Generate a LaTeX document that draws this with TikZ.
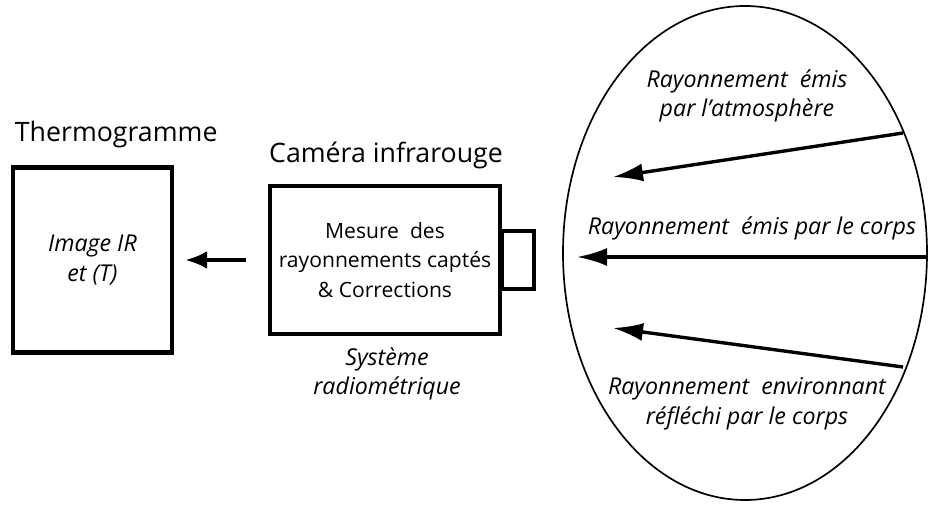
\documentclass[tikz,border=0pt]{standalone}
\usepackage{fontspec}
\setmainfont{Open Sans}
\usetikzlibrary{arrows.meta,shapes.geometric}

\begin{document}
\begin{tikzpicture}
	\tikzset{box/.style={draw, line width=3.2pt, align=center, font=\fontsize{15}{21}\selectfont},
		title/.style={font=\fontsize{19}{22}\selectfont},
		note/.style={align=center, font=\fontsize{16.5}{21}\selectfont\itshape},
		ray/.style={line width=2.4pt, -{Latex[length=0.75cm, width=0.45cm]}}}
	\useasboundingbox (0,0) rectangle (23.2,12.7);
	% thermogramme
	\node[box, minimum width=3.975cm, minimum height=4.625cm, font=\fontsize{16.5}{21}\selectfont\itshape] (thermo) at (2.31,6.2) {Image IR\\et (T)};
	\node[title, anchor=west] (thermolbl) at (0.25,9.33) {Thermogramme};
	% camera
	\node[box, minimum width=5.75cm, minimum height=3.7cm] (cam) at (9.625,6.2) {Mesure\ \ des\\rayonnements captés\\\& Corrections};
	\node[draw, line width=2.6pt, minimum width=0.8cm, minimum height=1.45cm, anchor=west, inner sep=0pt] (lens) at ([xshift=-1.5pt]cam.east) {};
	\node[title] (camlbl) at (9.65,8.825) {Caméra infrarouge};
	\node[note] (sys) at (9.675,3.35) {Système\\radiométrique};
	\draw[line width=2.8pt, -{Latex[length=0.55cm, width=0.45cm]}, shorten <=0.55cm, shorten >=0.275cm] (cam.west) -- (thermo.east);
	% corps
	\node[draw, ellipse, line width=1.2pt, minimum width=9.1cm, minimum height=12.35cm, inner sep=0pt] (corps) at (18.625,6.375) {};
	\node[note] (atm) at (18.675,10.3) {Rayonnement\ \ émis\\par l'atmosphère};
	\node[note] (emis) at (18.8,7.0) {Rayonnement\ \ émis par le corps};
	\node[note] (refl) at (18.675,2.6) {Rayonnement\ \ environnant\\réfléchi par le corps};
	\coordinate (a1) at (22.575,9.375);
	\coordinate (b1) at (15.325,8.275);
	\coordinate (a2) at (23.2,6.275);
	\coordinate (b2) at (14.425,6.275);
	\coordinate (a3) at (22.575,3.525);
	\coordinate (b3) at (15.325,4.5);
	\draw[ray] (a1) -- (b1);
	\draw[ray] (a2) -- (b2);
	\draw[ray] (a3) -- (b3);
\end{tikzpicture}
\end{document}
